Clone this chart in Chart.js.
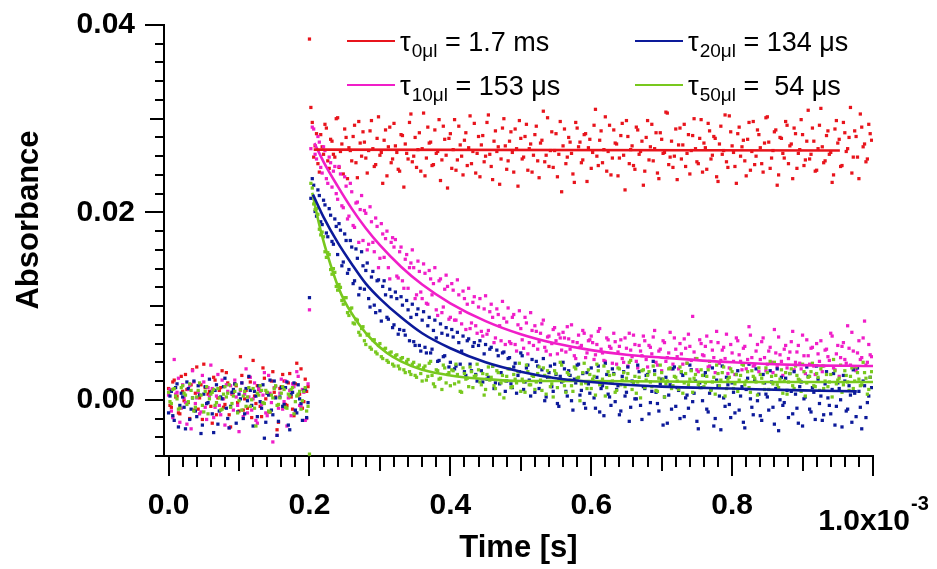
<!DOCTYPE html>
<html><head><meta charset="utf-8">
<script src="https://cdn.jsdelivr.net/npm/chart.js@4.4.1/dist/chart.umd.min.js"></script>
<style>html,body{margin:0;padding:0;background:#fff}#wrap{width:937px;height:569px;position:relative}</style>
</head><body><div id="wrap"><canvas id="c"></canvas></div>
<script>
// time base (units of 1e-3 s): set A at t0 + i*step, set B offset by half a step
const sampleStart = 0.0;
const sampleStep = 0.004;
const halfStep = 0.002;
const triggerTime = 0.2;

// ---------- pre-trigger samples (t = 0 ... 0.198) ----------
const redPre = [
0.0012,-0.0008,0.0021,0.0004,-0.0015,0.0009,0.0027,-0.0003,0.0016,-0.0011,
0.0035,0.0002,-0.0021,0.0013,0.0006,-0.0007,0.0024,-0.0016,0.0010,0.0031,
-0.0005,0.0018,-0.0029,0.0008,0.0015,-0.0012,0.0026,0.0001,-0.0009,0.0019,
0.0042,-0.0004,0.0011,-0.0018,0.0023,0.0007,-0.0013,0.0030,0.0003,-0.0024,
0.0014,0.0020,-0.0006,0.0028,-0.0010,0.0017,0.0005,0.0033,-0.0002,0.0009];
const redPreB = [
-0.0006,0.0019,0.0003,-0.0014,0.0025,-0.0001,0.0011,-0.0020,0.0032,0.0007,
-0.0010,0.0016,0.0038,-0.0004,0.0009,-0.0025,0.0021,0.0002,0.0013,-0.0008,
0.0029,-0.0016,0.0006,0.0017,-0.0003,0.0046,-0.0011,0.0010,0.0024,-0.0019,
0.0004,0.0015,-0.0007,0.0034,0.0001,-0.0013,0.0020,0.0008,-0.0032,0.0012,
0.0027,-0.0005,0.0018,0.0003,-0.0017,0.0039,0.0006,-0.0009,0.0022,0.0014];
const magPre = [
0.0005,-0.0012,0.0043,0.0008,-0.0024,0.0016,-0.0003,0.0011,-0.0031,0.0019,
0.0002,-0.0015,0.0026,-0.0008,0.0013,0.0037,-0.0019,0.0004,-0.0006,0.0021,
-0.0027,0.0009,0.0015,-0.0011,0.0003,-0.0034,0.0018,0.0006,-0.0014,0.0024,
0.0001,-0.0022,0.0012,-0.0005,0.0029,-0.0017,0.0007,-0.0045,0.0014,-0.0009,
0.0022,-0.0002,-0.0028,0.0010,0.0017,-0.0013,0.0025,-0.0007,0.0008,-0.0020];
const magPreB = [
0.0011,-0.0019,0.0006,0.0023,-0.0009,0.0002,-0.0026,0.0015,0.0031,-0.0004,
0.0008,-0.0013,0.0019,-0.0021,0.0004,0.0012,-0.0008,0.0027,-0.0016,0.0001,
0.0016,-0.0030,0.0007,0.0021,-0.0006,0.0010,-0.0018,0.0033,0.0003,-0.0011,
0.0018,-0.0025,0.0009,0.0005,-0.0014,0.0026,-0.0003,0.0013,-0.0038,0.0007,
-0.0010,0.0020,0.0002,-0.0017,0.0014,0.0030,-0.0006,0.0011,-0.0022,0.0017];
const bluePre = [
-0.0014,0.0009,-0.0022,0.0017,-0.0006,0.0003,-0.0031,0.0012,-0.0010,0.0020,
-0.0018,0.0005,-0.0027,0.0014,-0.0003,0.0008,-0.0035,0.0016,-0.0012,0.0001,
0.0023,-0.0020,-0.0007,0.0011,-0.0025,0.0006,0.0018,-0.0015,-0.0001,0.0010,
-0.0028,0.0004,0.0015,-0.0009,-0.0041,0.0007,0.0021,-0.0016,0.0002,-0.0023,
0.0013,-0.0005,0.0019,-0.0032,0.0008,-0.0011,0.0016,-0.0004,0.0010,-0.0019];
const bluePreB = [
0.0004,-0.0017,0.0013,-0.0029,0.0007,-0.0008,0.0019,-0.0021,0.0002,-0.0012,
0.0015,-0.0036,0.0006,-0.0004,0.0022,-0.0015,0.0010,-0.0026,0.0003,0.0014,
-0.0009,-0.0030,0.0008,0.0017,-0.0013,0.0001,-0.0020,0.0012,0.0025,-0.0006,
0.0009,-0.0018,-0.0002,0.0016,-0.0024,0.0005,-0.0011,0.0020,-0.0038,0.0003,
-0.0007,0.0013,-0.0027,0.0006,0.0018,-0.0014,0.0001,-0.0022,0.0011,-0.0003];
const greenPre = [
0.0008,-0.0004,0.0012,0.0001,-0.0009,0.0015,0.0005,-0.0002,0.0010,-0.0012,
0.0003,0.0018,-0.0006,0.0009,-0.0015,0.0006,0.0011,-0.0003,0.0002,-0.0010,
0.0014,0.0007,-0.0008,0.0004,0.0016,-0.0001,-0.0011,0.0009,0.0003,-0.0007,
0.0012,-0.0028,0.0005,0.0010,-0.0004,0.0008,-0.0013,0.0002,0.0015,-0.0005,
0.0007,0.0011,-0.0009,0.0004,0.0013,-0.0002,0.0006,-0.0010,0.0009,-0.0012];
const greenPreB = [
-0.0002,0.0011,0.0004,-0.0010,0.0013,0.0007,-0.0005,0.0017,0.0002,-0.0008,
0.0010,0.0005,-0.0013,0.0014,0.0001,0.0008,-0.0006,0.0012,-0.0011,0.0006,
0.0003,0.0016,-0.0004,0.0009,-0.0014,0.0011,0.0004,-0.0007,0.0013,0.0000,
-0.0009,0.0007,0.0015,-0.0003,0.0010,-0.0012,0.0005,0.0012,-0.0006,0.0002,
0.0014,-0.0008,0.0006,0.0011,-0.0015,0.0004,0.0009,-0.0001,0.0013,-0.0007];

// ---------- post-trigger samples (t = 0.200 ... 0.998) ----------
const redPost = [
0.0385,0.0296,0.0271,0.0252,0.0283,0.0262,0.0290,0.0247,0.0276,0.0259,
0.0301,0.0265,0.0241,0.0280,0.0269,0.0255,0.0293,0.0237,0.0274,0.0286,
0.0258,0.0266,0.0298,0.0249,0.0279,0.0261,0.0231,0.0288,0.0270,0.0253,
0.0295,0.0264,0.0244,0.0282,0.0273,0.0257,0.0305,0.0260,0.0248,0.0285,
0.0268,0.0239,0.0291,0.0275,0.0251,0.0263,0.0299,0.0256,0.0278,0.0226,
0.0284,0.0267,0.0245,0.0292,0.0260,0.0277,0.0250,0.0303,0.0265,0.0242,
0.0281,0.0272,0.0254,0.0296,0.0262,0.0235,0.0287,0.0270,0.0257,0.0300,
0.0246,0.0276,0.0264,0.0289,0.0228,0.0279,0.0259,0.0294,0.0268,0.0243,
0.0283,0.0255,0.0274,0.0308,0.0261,0.0249,0.0286,0.0266,0.0238,0.0297,
0.0271,0.0252,0.0280,0.0263,0.0232,0.0290,0.0275,0.0256,0.0284,0.0269,
0.0247,0.0293,0.0260,0.0277,0.0253,0.0302,0.0265,0.0240,0.0288,0.0273,
0.0258,0.0295,0.0224,0.0281,0.0267,0.0250,0.0291,0.0262,0.0276,0.0244,
0.0298,0.0270,0.0255,0.0285,0.0236,0.0278,0.0264,0.0306,0.0259,0.0248,
0.0289,0.0272,0.0257,0.0294,0.0263,0.0241,0.0282,0.0268,0.0252,0.0299,
0.0274,0.0246,0.0287,0.0261,0.0279,0.0233,0.0292,0.0266,0.0254,0.0303,
0.0271,0.0249,0.0284,0.0260,0.0277,0.0239,0.0296,0.0265,0.0251,0.0288,
0.0269,0.0243,0.0301,0.0275,0.0258,0.0286,0.0229,0.0280,0.0263,0.0297,
0.0252,0.0273,0.0290,0.0247,0.0267,0.0283,0.0256,0.0309,0.0262,0.0276,
0.0245,0.0293,0.0270,0.0255,0.0287,0.0264,0.0240,0.0298,0.0278,0.0250,
0.0285,0.0268,0.0312,0.0259,0.0281,0.0236,0.0291,0.0273,0.0257,0.0284];
const redPostB = [
0.0312,0.0259,0.0284,0.0243,0.0270,0.0294,0.0255,0.0278,0.0262,0.0300,
0.0248,0.0273,0.0289,0.0236,0.0266,0.0281,0.0253,0.0297,0.0260,0.0275,
0.0242,0.0287,0.0268,0.0251,0.0302,0.0264,0.0277,0.0239,0.0291,0.0257,
0.0271,0.0246,0.0283,0.0227,0.0263,0.0296,0.0254,0.0280,0.0267,0.0244,
0.0306,0.0258,0.0274,0.0250,0.0288,0.0265,0.0234,0.0292,0.0261,0.0279,
0.0247,0.0299,0.0256,0.0272,0.0240,0.0285,0.0269,0.0252,0.0295,0.0263,
0.0238,0.0282,0.0260,0.0304,0.0249,0.0276,0.0265,0.0230,0.0290,0.0271,
0.0255,0.0286,0.0243,0.0268,0.0298,0.0257,0.0281,0.0245,0.0273,0.0261,
0.0292,0.0237,0.0277,0.0254,0.0301,0.0266,0.0248,0.0284,0.0262,0.0222,
0.0289,0.0259,0.0275,0.0241,0.0296,0.0270,0.0253,0.0283,0.0233,0.0278,
0.0264,0.0310,0.0250,0.0287,0.0267,0.0244,0.0293,0.0258,0.0274,0.0239,
0.0282,0.0261,0.0298,0.0252,0.0271,0.0246,0.0288,0.0265,0.0229,0.0280,
0.0256,0.0294,0.0268,0.0242,0.0285,0.0263,0.0307,0.0251,0.0276,0.0260,
0.0235,0.0290,0.0272,0.0249,0.0283,0.0266,0.0300,0.0254,0.0279,0.0243,
0.0269,0.0295,0.0257,0.0281,0.0238,0.0273,0.0262,0.0304,0.0248,0.0286,
0.0264,0.0231,0.0291,0.0270,0.0255,0.0278,0.0245,0.0297,0.0260,0.0283,
0.0252,0.0274,0.0302,0.0247,0.0266,0.0288,0.0240,0.0279,0.0258,0.0293,
0.0271,0.0236,0.0284,0.0263,0.0299,0.0250,0.0276,0.0257,0.0290,0.0244,
0.0268,0.0311,0.0253,0.0282,0.0262,0.0232,0.0289,0.0274,0.0249,0.0296,
0.0265,0.0280,0.0242,0.0287,0.0259,0.0305,0.0270,0.0254,0.0294,0.0277];
const magPost = [
0.0096,0.0291,0.0262,0.0281,0.0248,0.0270,0.0236,0.0259,0.0227,0.0249,
0.0214,0.0241,0.0205,0.0228,0.0196,0.0222,0.0184,0.0211,0.0203,0.0170,
0.0199,0.0166,0.0190,0.0158,0.0185,0.0151,0.0177,0.0172,0.0141,0.0168,
0.0163,0.0132,0.0158,0.0127,0.0150,0.0119,0.0146,0.0141,0.0112,0.0137,
0.0108,0.0135,0.0102,0.0129,0.0124,0.0096,0.0127,0.0093,0.0118,0.0121,
0.0088,0.0117,0.0085,0.0112,0.0081,0.0108,0.0102,0.0076,0.0104,0.0079,
0.0099,0.0073,0.0097,0.0070,0.0094,0.0088,0.0066,0.0091,0.0063,0.0087,
0.0083,0.0062,0.0088,0.0059,0.0080,0.0076,0.0055,0.0082,0.0061,0.0074,
0.0079,0.0054,0.0071,0.0085,0.0052,0.0068,0.0060,0.0077,0.0049,0.0066,
0.0072,0.0051,0.0065,0.0080,0.0047,0.0061,0.0056,0.0074,0.0045,0.0063,
0.0068,0.0043,0.0059,0.0076,0.0050,0.0041,0.0064,0.0055,0.0071,0.0038,
0.0057,0.0044,0.0066,0.0036,0.0053,0.0069,0.0041,0.0058,0.0047,0.0063,
0.0035,0.0056,0.0067,0.0040,0.0052,0.0031,0.0061,0.0045,0.0072,0.0038,
0.0054,0.0033,0.0049,0.0065,0.0039,0.0057,0.0089,0.0044,0.0030,0.0060,
0.0047,0.0068,0.0036,0.0053,0.0029,0.0061,0.0042,0.0056,0.0070,0.0034,
0.0050,0.0027,0.0063,0.0041,0.0055,0.0033,0.0078,0.0045,0.0037,0.0059,
0.0043,0.0066,0.0031,0.0052,0.0040,0.0075,0.0035,0.0048,0.0026,0.0058,
0.0044,0.0062,0.0032,0.0051,0.0039,0.0069,0.0028,0.0047,0.0055,0.0036,
0.0060,0.0041,0.0030,0.0053,0.0046,0.0071,0.0034,0.0049,0.0025,0.0057,
0.0043,0.0079,0.0037,0.0052,0.0031,0.0063,0.0045,0.0084,0.0040,0.0048];
const magPostB = [
0.0268,0.0289,0.0257,0.0275,0.0242,0.0266,0.0231,0.0253,0.0244,0.0220,
0.0249,0.0207,0.0238,0.0193,0.0231,0.0186,0.0210,0.0168,0.0218,0.0202,
0.0160,0.0206,0.0168,0.0194,0.0141,0.0188,0.0152,0.0180,0.0129,0.0173,
0.0171,0.0130,0.0163,0.0119,0.0155,0.0141,0.0160,0.0108,0.0148,0.0115,
0.0145,0.0103,0.0138,0.0112,0.0141,0.0090,0.0129,0.0099,0.0133,0.0086,
0.0124,0.0085,0.0128,0.0093,0.0116,0.0075,0.0119,0.0082,0.0110,0.0071,
0.0108,0.0068,0.0111,0.0074,0.0102,0.0061,0.0097,0.0079,0.0105,0.0059,
0.0098,0.0060,0.0091,0.0052,0.0095,0.0064,0.0088,0.0049,0.0093,0.0058,
0.0073,0.0062,0.0081,0.0056,0.0067,0.0048,0.0075,0.0063,0.0070,0.0053,
0.0066,0.0078,0.0054,0.0062,0.0044,0.0069,0.0058,0.0071,0.0050,0.0064,
0.0061,0.0048,0.0073,0.0054,0.0042,0.0066,0.0057,0.0039,0.0062,0.0051,
0.0064,0.0040,0.0055,0.0071,0.0046,0.0059,0.0034,0.0052,0.0068,0.0043,
0.0058,0.0049,0.0074,0.0037,0.0054,0.0063,0.0041,0.0050,0.0033,0.0066,
0.0046,0.0060,0.0038,0.0055,0.0070,0.0042,0.0051,0.0032,0.0064,0.0048,
0.0057,0.0035,0.0062,0.0045,0.0073,0.0039,0.0053,0.0044,0.0028,0.0059,
0.0041,0.0066,0.0048,0.0032,0.0057,0.0043,0.0069,0.0036,0.0052,0.0030,
0.0062,0.0045,0.0038,0.0056,0.0029,0.0050,0.0067,0.0041,0.0054,0.0034,
0.0051,0.0073,0.0040,0.0058,0.0033,0.0047,0.0064,0.0038,0.0056,0.0027,
0.0049,0.0063,0.0036,0.0054,0.0042,0.0068,0.0032,0.0058,0.0045,0.0061,
0.0039,0.0055,0.0072,0.0034,0.0050,0.0043,0.0066,0.0037,0.0059,0.0046];
const bluePost = [
0.0109,0.0236,0.0201,0.0224,0.0190,0.0213,0.0178,0.0204,0.0169,0.0193,
0.0155,0.0181,0.0147,0.0170,0.0139,0.0163,0.0127,0.0151,0.0119,0.0143,
0.0138,0.0108,0.0131,0.0101,0.0127,0.0095,0.0121,0.0112,0.0086,0.0110,
0.0080,0.0108,0.0075,0.0101,0.0069,0.0096,0.0088,0.0062,0.0091,0.0058,
0.0085,0.0056,0.0079,0.0050,0.0074,0.0066,0.0042,0.0071,0.0047,0.0069,
0.0040,0.0067,0.0036,0.0061,0.0052,0.0030,0.0063,0.0038,0.0057,0.0027,
0.0058,0.0031,0.0049,0.0022,0.0054,0.0036,0.0018,0.0047,0.0029,0.0051,
0.0020,0.0045,0.0013,0.0039,0.0026,0.0050,0.0011,0.0034,0.0021,0.0043,
0.0008,0.0036,0.0019,0.0044,0.0003,0.0029,0.0014,0.0038,-0.0004,0.0025,
0.0040,0.0009,0.0031,-0.0001,0.0022,0.0037,0.0005,0.0028,-0.0009,0.0017,
0.0034,0.0002,0.0024,-0.0013,0.0015,0.0039,0.0006,-0.0006,0.0028,0.0011,
-0.0016,0.0025,0.0004,0.0035,-0.0008,0.0019,0.0001,0.0030,-0.0021,0.0012,
0.0027,-0.0003,0.0041,0.0008,-0.0012,0.0022,0.0003,-0.0025,0.0016,0.0033,
-0.0007,0.0010,0.0029,-0.0018,0.0005,0.0037,-0.0002,0.0020,-0.0031,0.0013,
0.0026,-0.0010,0.0007,0.0034,-0.0020,0.0015,-0.0032,0.0002,0.0024,-0.0005,
0.0018,-0.0014,0.0031,0.0004,-0.0024,0.0011,0.0038,-0.0008,0.0021,-0.0001,
-0.0017,0.0027,0.0006,-0.0011,0.0019,-0.0026,0.0033,0.0000,-0.0006,0.0023,
-0.0019,0.0009,0.0030,-0.0009,0.0014,-0.0028,0.0003,0.0025,-0.0013,0.0008,
0.0036,-0.0004,-0.0022,0.0017,0.0002,-0.0015,0.0028,-0.0007,0.0012,-0.0029,
0.0020,-0.0010,0.0005,0.0032,-0.0018,0.0009,-0.0031,0.0015,-0.0003,0.0024];
const bluePostB = [
0.0215,0.0229,0.0196,0.0218,0.0187,0.0208,0.0174,0.0197,0.0166,0.0185,
0.0188,0.0143,0.0177,0.0135,0.0170,0.0124,0.0161,0.0112,0.0158,0.0118,
0.0146,0.0099,0.0137,0.0093,0.0128,0.0084,0.0127,0.0088,0.0118,0.0077,
0.0115,0.0070,0.0110,0.0074,0.0106,0.0063,0.0102,0.0058,0.0097,0.0052,
0.0094,0.0050,0.0088,0.0054,0.0085,0.0041,0.0081,0.0046,0.0077,0.0035,
0.0075,0.0033,0.0072,0.0038,0.0068,0.0026,0.0065,0.0031,0.0061,0.0020,
0.0063,0.0019,0.0059,0.0024,0.0056,0.0012,0.0053,0.0017,0.0050,0.0009,
0.0044,0.0017,0.0035,0.0007,0.0030,0.0047,0.0019,0.0037,0.0004,0.0026,
0.0041,0.0012,0.0032,-0.0001,0.0024,0.0036,0.0009,0.0027,-0.0007,0.0019,
0.0033,0.0004,0.0026,-0.0011,0.0018,0.0038,0.0010,-0.0004,0.0029,0.0007,
0.0021,-0.0009,0.0036,0.0012,-0.0017,0.0027,0.0003,0.0033,-0.0002,0.0015,
-0.0012,0.0030,0.0008,-0.0023,0.0020,0.0001,0.0037,-0.0006,0.0014,0.0026,
-0.0015,0.0009,0.0031,-0.0004,0.0017,-0.0027,0.0024,0.0005,-0.0010,0.0035,
0.0013,-0.0020,0.0026,0.0002,-0.0009,0.0032,0.0007,-0.0023,0.0018,-0.0001,
0.0029,-0.0013,0.0011,-0.0028,0.0021,0.0004,0.0036,-0.0007,0.0016,-0.0019,
0.0008,0.0027,-0.0011,0.0014,-0.0030,0.0023,0.0001,-0.0016,0.0033,0.0006,
-0.0022,0.0018,0.0003,0.0031,-0.0008,0.0012,-0.0033,0.0024,-0.0003,0.0010,
0.0028,-0.0015,0.0006,-0.0025,0.0019,0.0001,0.0035,-0.0010,0.0013,-0.0021,
0.0022,0.0004,-0.0016,0.0030,-0.0006,0.0011,-0.0027,0.0018,0.0000,0.0026,
-0.0012,0.0015,-0.0024,0.0007,0.0034,-0.0008,0.0020,-0.0019,0.0004,0.0013];
const greenPost = [
-0.0058,0.0226,0.0203,0.0198,0.0176,0.0174,0.0152,0.0155,0.0134,0.0136,
0.0117,0.0120,0.0102,0.0109,0.0090,0.0098,0.0081,0.0085,0.0069,0.0078,
0.0059,0.0070,0.0054,0.0064,0.0049,0.0060,0.0044,0.0055,0.0040,0.0051,
0.0036,0.0048,0.0033,0.0045,0.0029,0.0043,0.0027,0.0040,0.0024,0.0037,
0.0020,0.0036,0.0025,0.0041,0.0017,0.0032,0.0022,0.0011,0.0034,0.0027,
0.0015,0.0031,0.0038,0.0019,0.0008,0.0028,0.0023,0.0035,0.0013,0.0026,
0.0032,0.0016,0.0005,0.0027,0.0021,0.0036,0.0012,0.0029,0.0018,0.0002,
0.0025,0.0033,0.0014,0.0022,0.0030,0.0009,0.0019,0.0037,0.0016,0.0026,
0.0011,0.0028,0.0021,0.0034,0.0006,0.0024,0.0017,0.0031,0.0013,0.0040,
0.0020,0.0008,0.0027,0.0015,0.0035,0.0023,-0.0001,0.0029,0.0018,0.0032,
0.0012,0.0025,0.0038,0.0016,0.0022,0.0004,0.0030,0.0019,0.0027,0.0010,
0.0033,0.0021,0.0014,0.0028,0.0042,0.0017,0.0007,0.0024,0.0031,0.0013,
0.0026,0.0019,0.0036,0.0010,0.0023,0.0029,0.0003,0.0020,0.0034,0.0015,
0.0024,0.0011,0.0030,0.0018,0.0039,0.0022,0.0008,0.0027,0.0016,0.0032,
0.0014,0.0025,0.0041,0.0019,0.0006,0.0028,0.0021,0.0035,0.0012,0.0024,
0.0030,0.0017,0.0009,0.0026,0.0037,0.0020,0.0013,0.0031,0.0023,0.0005,
0.0027,0.0018,0.0034,0.0011,0.0025,0.0040,0.0016,0.0022,0.0007,0.0029,
0.0019,0.0033,0.0012,0.0026,0.0021,0.0038,0.0004,0.0024,0.0030,0.0015,
0.0028,0.0010,0.0036,0.0020,0.0014,0.0027,0.0043,0.0017,0.0023,0.0008,
0.0031,0.0019,0.0025,0.0012,0.0035,0.0022,0.0016,0.0029,0.0006,0.0024];
const greenPostB = [
0.0231,0.0209,0.0204,0.0182,0.0179,0.0158,0.0157,0.0139,0.0140,0.0121,
0.0123,0.0106,0.0109,0.0093,0.0097,0.0082,0.0086,0.0072,0.0076,0.0063,
0.0069,0.0056,0.0064,0.0051,0.0058,0.0046,0.0054,0.0042,0.0050,0.0038,
0.0047,0.0036,0.0044,0.0032,0.0041,0.0030,0.0038,0.0026,0.0035,0.0028,
0.0034,0.0021,0.0039,0.0026,0.0014,0.0031,0.0023,0.0037,0.0018,0.0029,
0.0032,0.0017,0.0027,0.0009,0.0034,0.0022,0.0014,0.0030,0.0025,0.0038,
0.0019,0.0028,0.0011,0.0035,0.0024,0.0015,0.0031,0.0006,0.0026,0.0020,
0.0033,0.0013,0.0027,0.0018,0.0039,0.0022,0.0008,0.0030,0.0016,0.0025,
0.0019,0.0035,0.0010,0.0026,0.0031,0.0014,0.0003,0.0028,0.0022,0.0037,
0.0015,0.0029,0.0021,0.0009,0.0033,0.0024,0.0017,0.0039,0.0012,0.0027,
0.0022,0.0005,0.0031,0.0018,0.0036,0.0013,0.0026,0.0020,0.0008,0.0034,
0.0016,0.0029,0.0023,0.0040,0.0011,0.0025,0.0019,0.0002,0.0032,0.0021,
0.0030,0.0014,0.0027,0.0009,0.0037,0.0022,0.0017,0.0033,0.0012,0.0025,
0.0020,0.0035,0.0007,0.0028,0.0016,0.0031,0.0023,0.0044,0.0013,0.0026,
0.0018,0.0032,0.0010,0.0024,0.0037,0.0015,0.0029,0.0004,0.0022,0.0033,
0.0012,0.0027,0.0021,0.0038,0.0016,0.0030,0.0008,0.0025,0.0019,0.0034,
0.0023,0.0011,0.0029,0.0041,0.0017,0.0026,0.0013,0.0032,0.0020,0.0006,
0.0028,0.0015,0.0036,0.0022,0.0009,0.0030,0.0018,0.0025,0.0039,0.0014,
0.0024,0.0033,0.0012,0.0027,0.0019,0.0003,0.0031,0.0021,0.0037,0.0016,
0.0026,0.0010,0.0034,0.0020,0.0029,0.0015,0.0040,0.0023,0.0011,0.0030];

// ---------- fitted curves ----------
const redFitT = [0.206, 0.953];
const redFitY = [0.0267, 0.0266];
const magFitT = [0.207,0.22,0.24,0.26,0.28,0.30,0.33,0.36,0.40,0.45,0.50,0.55,0.60,0.65,0.70,0.80,0.90,1.00];
const magFitY = [0.0274,0.0254,0.0228,0.0204,0.0183,0.0165,0.0142,0.0123,0.0103,0.0084,0.0070,0.0060,0.0053,0.0048,0.0045,0.0040,0.0037,0.0036];
const blueFitT = [0.205,0.22,0.24,0.26,0.28,0.30,0.33,0.36,0.40,0.45,0.50,0.55,0.60,0.65,0.70,0.80,0.90,0.977];
const blueFitY = [0.0219,0.0195,0.0168,0.0145,0.0124,0.0108,0.0088,0.0071,0.0055,0.0040,0.0030,0.0023,0.0019,0.0016,0.0014,0.0012,0.0010,0.0009];
const greenFitT = [0.204,0.212,0.22,0.23,0.24,0.25,0.27,0.29,0.31,0.33,0.36,0.40,0.45,0.50,0.60,0.80,1.00];
const greenFitY = [0.0221,0.0193,0.0169,0.0144,0.0122,0.0105,0.0081,0.0063,0.0050,0.0041,0.0032,0.0026,0.0022,0.0020,0.0020,0.0019,0.0019];

// ---------- axes / text ----------
const xTickValues = [0, 0.2, 0.4, 0.6, 0.8, 1.0];
const xTickLabels = ['0.0', '0.2', '0.4', '0.6', '0.8', '1.0x10'];
const xExponent = '-3';
const yTickValues = [0, 0.02, 0.04];
const yTickLabels = ['0.00', '0.02', '0.04'];
const xTitle = 'Time [s]';
const yTitle = 'Absorbance';
const legendSymbols = ['τ', 'τ', 'τ', 'τ'];
const legendSubs = ['0μl', '10μl', '20μl', '50μl'];
const legendRests = [' = 1.7 ms', ' = 153 μs', ' = 134 μs', ' =  54 μs'];

const COL = { red: '#e8141c', mag: '#f01ec8', blue: '#0c1a9a', green: '#78c81e' };
const FONT = '"Liberation Sans", Arial, Helvetica, sans-serif';

function samples(pre, preB, post, postB) {
  const out = [];
  pre.forEach((y, i) => out.push({ x: sampleStart + i * sampleStep, y }));
  preB.forEach((y, i) => out.push({ x: sampleStart + halfStep + i * sampleStep, y }));
  post.forEach((y, k) => out.push({ x: triggerTime + k * sampleStep, y }));
  postB.forEach((y, k) => out.push({ x: triggerTime + halfStep + k * sampleStep, y }));
  return out;
}
function fit(t, y) { return t.map((x, i) => ({ x, y: y[i] })); }

function scatterDs(label, data, color, order) {
  return { type: 'scatter', label, data, order, showLine: false,
    pointStyle: 'rect', pointRadius: 2.3, pointHoverRadius: 2.3, pointBorderWidth: 0,
    backgroundColor: color, borderColor: color };
}
function lineDs(label, data, color, order) {
  return { type: 'line', label, data, order, showLine: true, pointRadius: 0,
    borderColor: color, borderWidth: 2.6, fill: false, cubicInterpolationMode: 'monotone' };
}

const decor = {
  id: 'decor',
  afterDraw(chart) {
    const { ctx, chartArea: ca, scales: { x: xs, y: ys } } = chart;
    ctx.save();
    ctx.strokeStyle = '#000'; ctx.lineWidth = 2;
    for (let i = 0; i <= 50; i++) {
      const len = i % 10 === 0 ? 20 : (i % 5 === 0 ? 15 : 11);
      const px = Math.round(xs.getPixelForValue(i * 0.02));
      ctx.beginPath(); ctx.moveTo(px, ca.bottom); ctx.lineTo(px, ca.bottom + len); ctx.stroke();
    }
    for (let i = -3; i <= 20; i++) {
      const len = i % 10 === 0 ? 19 : (i % 5 === 0 ? 14 : 9);
      const py = Math.round(ys.getPixelForValue(i * 0.002));
      ctx.beginPath(); ctx.moveTo(ca.left, py); ctx.lineTo(ca.left - len, py); ctx.stroke();
    }
    ctx.fillStyle = '#000';
    ctx.textBaseline = 'alphabetic';
    ctx.font = 'bold 30px ' + FONT;
    const main = xTickLabels[xTickLabels.length - 1];
    const w1 = ctx.measureText(main).width;
    ctx.font = 'bold 20px ' + FONT;
    const w2 = ctx.measureText(xExponent).width;
    const cx = xs.getPixelForValue(xTickValues[xTickValues.length - 1]);
    const sx = cx - (w1 + w2) / 2;
    ctx.font = 'bold 30px ' + FONT; ctx.textAlign = 'left';
    ctx.fillText(main, sx, ca.bottom + 74);
    ctx.font = 'bold 20px ' + FONT;
    ctx.fillText(xExponent, sx + w1 + 1, ca.bottom + 54);
    ctx.font = 'bold 31px ' + FONT; ctx.textAlign = 'center';
    ctx.fillText(xTitle, (ca.left + ca.right) / 2, ca.bottom + 101);
    ctx.save();
    ctx.translate(38, 220); ctx.rotate(-Math.PI / 2);
    ctx.fillText(yTitle, 0, 0);
    ctx.restore();
    const cols = [COL.red, COL.mag, COL.blue, COL.green];
    const pos = [[347, 41], [347, 85], [635, 41], [635, 85]];
    for (let i = 0; i < 4; i++) {
      const [lx, ly] = pos[i];
      ctx.strokeStyle = cols[i]; ctx.lineWidth = 2.2;
      ctx.beginPath(); ctx.moveTo(lx, ly); ctx.lineTo(lx + 48, ly); ctx.stroke();
      let tx = lx + 53; const by = ly + 10;
      ctx.textAlign = 'left'; ctx.fillStyle = '#000';
      ctx.font = '27px ' + FONT;
      ctx.fillText(legendSymbols[i], tx, by); tx += ctx.measureText(legendSymbols[i]).width + 1;
      ctx.font = '19px ' + FONT;
      ctx.fillText(legendSubs[i], tx, by + 6); tx += ctx.measureText(legendSubs[i]).width;
      ctx.font = '27px ' + FONT;
      ctx.fillText(legendRests[i], tx, by);
    }
    ctx.restore();
  }
};

Chart.defaults.font.family = FONT;
new Chart(document.getElementById('c'), {
  data: {
    datasets: [
      lineDs('fit 0', fit(redFitT, redFitY), COL.red, 1),
      lineDs('fit 10', fit(magFitT, magFitY), COL.mag, 2),
      lineDs('fit 20', fit(blueFitT, blueFitY), COL.blue, 3),
      lineDs('fit 50', fit(greenFitT, greenFitY), COL.green, 4),
      scatterDs('50 μl', samples(greenPre, greenPreB, greenPost, greenPostB), COL.green, 5),
      scatterDs('20 μl', samples(bluePre, bluePreB, bluePost, bluePostB), COL.blue, 6),
      scatterDs('10 μl', samples(magPre, magPreB, magPost, magPostB), COL.mag, 7),
      scatterDs('0 μl', samples(redPre, redPreB, redPost, redPostB), COL.red, 8)
    ]
  },
  options: {
    responsive: true, maintainAspectRatio: false, animation: false,
    devicePixelRatio: 1,
    layout: { padding: { top: 25, right: 64, left: 0, bottom: 0 } },
    plugins: { legend: { display: false }, tooltip: { enabled: false } },
    events: [],
    scales: {
      x: {
        type: 'linear', position: 'bottom', min: -0.0065, max: 1.0,
        grid: { display: false, drawTicks: false },
        border: { display: true, color: '#000', width: 2 },
        afterBuildTicks: s => { s.ticks = xTickValues.map(v => ({ value: v })); },
        afterFit: s => { s.height = 113; s.paddingLeft = 0; s.paddingRight = 0; },
        ticks: {
          autoSkip: false, maxRotation: 0, padding: 32, color: '#000',
          font: { size: 30, weight: 'bold' },
          callback: (v) => { const i = xTickValues.indexOf(v); return (i < 0 || i === xTickValues.length - 1) ? '' : xTickLabels[i]; }
        }
      },
      y: {
        type: 'linear', position: 'left', min: -0.006, max: 0.04,
        grid: { display: false, drawTicks: false },
        border: { display: true, color: '#000', width: 2 },
        afterBuildTicks: s => { s.ticks = yTickValues.map(v => ({ value: v })); },
        afterFit: s => { s.width = 164; s.paddingTop = 0; s.paddingBottom = 0; },
        ticks: {
          autoSkip: false, padding: 29, color: '#000',
          font: { size: 30, weight: 'bold' },
          callback: (v) => { const i = yTickValues.indexOf(v); return i < 0 ? '' : yTickLabels[i]; }
        }
      }
    }
  },
  plugins: [decor]
});
</script>
</body></html>
